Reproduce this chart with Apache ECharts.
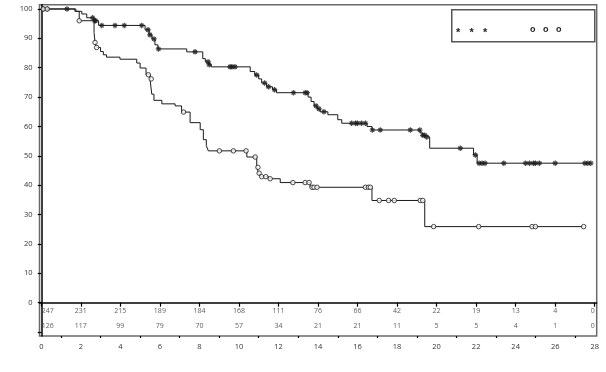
<!DOCTYPE html>
<html>
<head>
<meta charset="utf-8">
<script src="https://cdn.jsdelivr.net/npm/echarts@6/dist/echarts.min.js"></script>
<style>html,body{margin:0;padding:0;background:#fff}#c{width:606px;height:372px}</style>
</head>
<body>
<div id="c"></div>
<script>
// Kaplan-Meier step curves: [time, survival %]
const stepsStar = [[0,100],[1.75,99.2],[2.05,98.3],[2.3,97.0],[2.65,96.0],[2.9,94.4],[5.25,92.9],[5.45,91.2],[5.6,89.8],[5.75,87.8],[5.9,86.4],[7.36,85.4],[8.17,83.1],[8.3,82.0],[8.45,81.0],[8.6,80.3],[10.57,78.7],[10.8,77.5],[11.0,76.2],[11.15,74.8],[11.4,73.5],[11.7,72.5],[11.9,71.5],[13.5,70.0],[13.65,68.5],[13.8,67.0],[13.95,66.0],[14.1,65.0],[14.5,64.0],[15.0,62.3],[15.2,61.1],[16.48,60.0],[16.73,58.8],[19.17,57.8],[19.3,57.0],[19.45,56.4],[19.65,52.6],[21.87,50.3],[22.05,47.5],[27.8,47.5]];
const stepsCircle = [[0,100],[1.7,99.2],[1.92,96.0],[2.67,92.0],[2.72,88.6],[2.8,86.9],[3.0,85.5],[3.14,84.4],[3.3,83.6],[3.98,82.9],[4.83,81.6],[5.0,79.9],[5.3,77.6],[5.5,76.2],[5.59,71.0],[5.7,68.9],[6.1,67.7],[6.77,67.0],[7.1,64.9],[7.53,61.3],[8.04,58.9],[8.2,55.5],[8.35,53.5],[8.45,51.7],[10.4,49.6],[10.9,46.1],[11.0,44.1],[11.1,42.9],[11.5,42.2],[12.09,40.9],[13.6,39.3],[16.73,34.8],[19.4,25.9],[27.44,25.9]];
// censored observation times
const censorStar = [0.1,0.3,1.3,2.6,2.7,2.75,3.06,3.73,4.2,5.08,5.4,5.5,5.7,5.93,7.78,8.44,8.5,9.55,9.65,9.8,10.9,11.3,11.5,11.8,12.76,13.35,13.45,13.9,14.05,14.3,15.7,15.9,16.0,16.2,16.4,16.75,17.15,18.67,19.15,19.3,19.4,19.5,21.2,21.96,22.15,22.3,22.45,23.4,24.5,24.7,24.9,25.0,25.2,26.0,27.5,27.65,27.8];
const censorCircle = [0.1,0.3,1.92,2.72,2.8,5.42,5.56,7.2,9.01,9.72,10.36,10.82,10.96,11.02,11.15,11.36,11.58,12.73,13.35,13.55,13.7,13.8,13.95,16.4,16.55,16.65,17.1,17.57,17.86,19.17,19.3,19.85,22.13,24.83,25.0,27.44];
// numbers at risk
const riskTimes = [0,2,4,6,8,10,12,14,16,18,20,22,24,26,28];
const riskStar = [247,231,215,189,184,168,111,76,66,42,22,19,13,4,0];
const riskCircle = [126,117,99,79,70,57,34,21,21,11,5,5,4,1,0];
const xLabelTicks = [0,2,4,6,8,10,12,14,16,18,20,22,24,26,28];
const xMinorTicks = [1,3,5,7,9,11,13,15,17,19,21,23,25,27];
const yLabelTicks = [0,10,20,30,40,50,60,70,80,90,100];
const yTicks = [-10,0,10,20,30,40,50,60,70,80,90,100];
const legendStar = '*   *   *';
const legendCircle = 'o   o   o';

function valueAt(steps, t) {
  let v = steps[0][1];
  for (const p of steps) { if (p[0] <= t) v = p[1]; else break; }
  return v;
}
const FONT = 'Open Sans';
const ink = '#1a1a1a';
const asterisk = 'path://M5,0L5,10M0,5L10,5M1.6,1.6L8.4,8.4M8.4,1.6L1.6,8.4';

function riskData(vals, row) {
  return riskTimes.map((t, i) => ({ value: [t, row], name: String(vals[i]) }));
}
const riskLabel = { show: true, position: 'inside', formatter: '{b}', color: '#333', fontFamily: FONT, fontSize: 7 };
function riskLayout(p) {
  if (p.dataIndex === 0) return { dx: 6.5 };
  if (p.dataIndex === riskTimes.length - 1) return { dx: -2 };
  return {};
}

const chart = echarts.init(document.getElementById('c'), null, { renderer: 'canvas' });
chart.setOption({
  animation: false,
  grid: { left: 39.5, right: 9.3, top: 4.7, bottom: 36, show: true, borderColor: '#6a6a6a', borderWidth: 1.5, backgroundColor: 'transparent' },
  xAxis: [{
    type: 'value', min: -0.09, max: 28.1,
    axisLine: { lineStyle: { color: '#000', width: 1.5 } },
    axisTick: { customValues: xLabelTicks, length: 4, lineStyle: { color: '#000', width: 1.2 } },
    axisLabel: { customValues: xLabelTicks, fontFamily: FONT, fontSize: 7.5, color: '#333', margin: 7 },
    splitLine: { show: false }
  }, {
    type: 'value', min: -0.09, max: 28.1, position: 'bottom',
    axisLine: { show: false },
    axisTick: { customValues: xMinorTicks, length: 2, lineStyle: { color: '#000', width: 1.2 } },
    axisLabel: { show: false },
    splitLine: { show: false }
  }],
  yAxis: {
    type: 'value', min: -11.34, max: 101.46,
    axisLine: { show: true, lineStyle: { color: '#000', width: 1.5 } },
    axisTick: { show: true, customValues: yTicks, length: 3.5, lineStyle: { color: '#000', width: 1.2 } },
    axisLabel: { customValues: yLabelTicks, fontFamily: FONT, fontSize: 7.5, color: '#333', margin: 7 },
    splitLine: { show: false }
  },
  series: [
    { type: 'line', step: 'end', data: stepsStar, showSymbol: false, lineStyle: { color: ink, width: 1 }, z: 3 },
    { type: 'line', step: 'end', data: stepsCircle, showSymbol: false, lineStyle: { color: ink, width: 1 }, z: 3 },
    { type: 'scatter', data: censorStar.map(t => [t, valueAt(stepsStar, t)]), symbol: asterisk, symbolSize: 5.5,
      itemStyle: { color: 'transparent', borderColor: ink, borderWidth: 1.2 }, z: 4 },
    { type: 'scatter', data: censorCircle.map(t => [t, valueAt(stepsCircle, t)]), symbol: 'circle', symbolSize: 4.5,
      itemStyle: { color: '#fff', borderColor: ink, borderWidth: 1 }, z: 4 },
    { type: 'scatter', data: riskData(riskStar, -2.72), symbol: 'circle', symbolSize: 1, itemStyle: { color: 'transparent' }, label: riskLabel, labelLayout: riskLayout, silent: true },
    { type: 'scatter', data: riskData(riskCircle, -7.83), symbol: 'circle', symbolSize: 1, itemStyle: { color: 'transparent' }, label: riskLabel, labelLayout: riskLayout, silent: true }
  ],
  graphic: [
    { type: 'rect', left: 451, top: 9, shape: { width: 143, height: 32 }, style: { fill: '#fff', stroke: '#555', lineWidth: 1.5 }, z: 10 },
    { type: 'text', left: 456, top: 27, style: { text: legendStar, fontFamily: 'Liberation Sans', fontSize: 11, fontWeight: 'bold', fill: '#222' }, z: 11 },
    { type: 'text', left: 530, top: 25.5, style: { text: legendCircle, fontFamily: 'Liberation Sans', fontSize: 9, fontWeight: 'bold', fill: '#222' }, z: 11 }
  ]
});
</script>
</body>
</html>
